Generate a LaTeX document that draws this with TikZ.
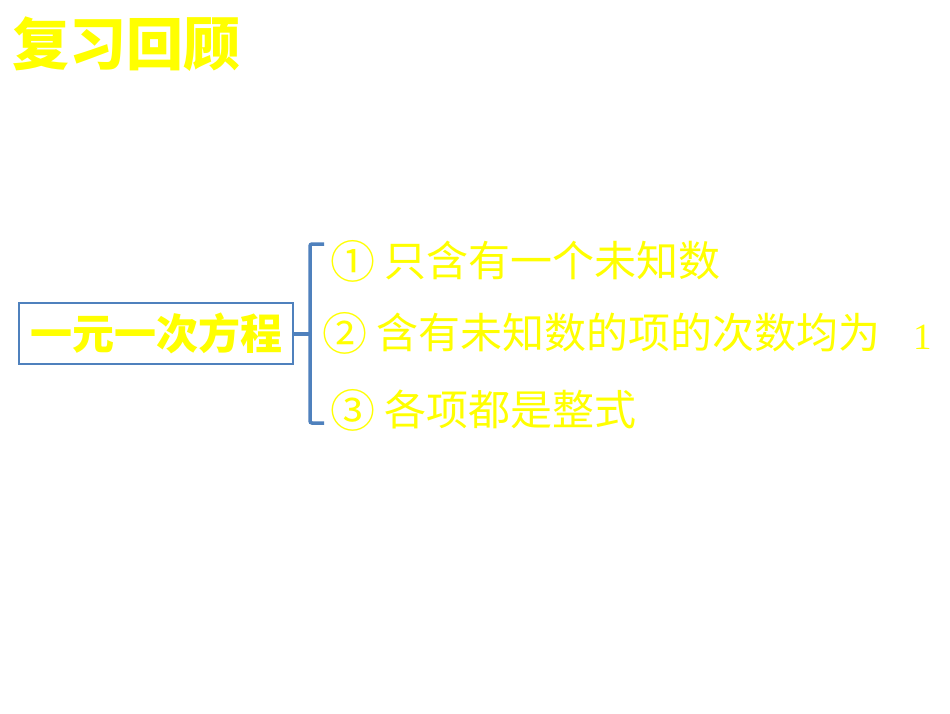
\documentclass[tikz,border=0pt]{standalone}
\usepackage{fontspec}
\newfontfamily\cjk{Noto Sans CJK SC}
\newfontfamily\serifnum{Liberation Serif}
\definecolor{ylw}{RGB}{255,255,0}
\definecolor{bblue}{RGB}{79,129,189}
\newcommand{\circnum}[1]{{\fontsize{45}{45}\selectfont\raisebox{-1.5pt}{#1}}}
\tikzset{
  title/.style={font=\cjk\bfseries\fontsize{57}{60}\selectfont, text=ylw, inner sep=0pt, anchor=west},
  concept/.style={draw=bblue, line width=2.2pt, minimum width=274pt, minimum height=61pt, inner sep=0pt,
     font=\cjk\bfseries\fontsize{42}{46}\selectfont, text=ylw},
  item/.style={font=\cjk\fontsize{42}{44}\selectfont, text=ylw, inner sep=0pt, anchor=west},
  bracestyle/.style={draw=bblue, line width=3.5pt, rounded corners=2pt}
}
\begin{document}
\begin{tikzpicture}[x=1pt,y=-1pt]
\useasboundingbox (0,0) rectangle (950,713);
\fill[white] (0,0) rectangle (950,713);
\node[title] (t) at (12,44) {复习回顾};
\node[concept] (c) at (156,333.5) {一元一次方程};
\node[item] (i1) at (330,261) {\circnum{①} 只含有一个未知数};
\node[item] (i2) at (322,333) {\circnum{②} 含有未知数的项的次数均为};
\node[font=\serifnum\fontsize{37}{40}\selectfont, text=ylw, inner sep=0pt, anchor=west] (one) at (913,337) {1};
\node[item] (i3) at (330,410) {\circnum{③} 各项都是整式};
\coordinate (btop) at (324,244);
\coordinate (bbot) at (324,423);
\coordinate (bmid) at (310,334);
\draw[bracestyle] (btop) -- (310,244) -- (310,423) -- (bbot);
\draw[bblue, line width=3.5pt] (c.east |- bmid) -- (bmid);
\end{tikzpicture}
\end{document}
